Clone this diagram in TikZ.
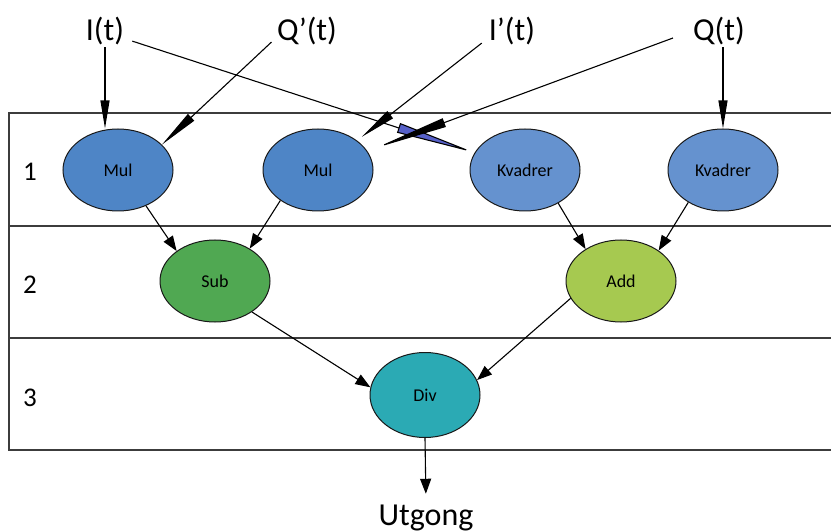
\documentclass[tikz,border=0pt]{standalone}
\usepackage{fontspec}
\setmainfont{Carlito}
\usetikzlibrary{arrows.meta,shapes.geometric}

\definecolor{mulblue}{RGB}{78,133,198}
\definecolor{kvblue}{RGB}{101,146,207}
\definecolor{subgreen}{RGB}{80,168,82}
\definecolor{addgreen}{RGB}{166,201,80}
\definecolor{divteal}{RGB}{43,170,180}
\definecolor{wedgeblue}{RGB}{86,96,200}
\definecolor{framegray}{RGB}{60,60,60}

\tikzset{
  frame/.style={draw=framegray, line width=1.3pt},
  opnode/.style={ellipse, draw=black!90, line width=1pt,
    minimum width=110pt, minimum height=82pt, inner sep=0pt,
    font=\fontsize{18}{20}\selectfont},
  sig/.style={font=\fontsize{32}{36}\selectfont, inner sep=2pt},
  rowlbl/.style={font=\fontsize{27}{30}\selectfont, inner sep=0pt},
  flow/.style={draw, line width=1.1pt, -{Triangle[length=15pt,width=11pt]}},
  feed/.style={draw, line width=1.1pt, -{Triangle[length=#1,width=9pt]}},
  bluefeed/.style={draw, line width=1.1pt,
    -{Triangle[length=#1,width=10pt,fill=wedgeblue]}},
}

\begin{document}
\begin{tikzpicture}[x=1pt,y=-1pt]
\useasboundingbox (0,0) rectangle (831,532);

% stage frame
\draw[frame] (831,113) -- (9,113) -- (9,450) -- (831,450);
\draw[frame] (9,226) -- (831,226);
\draw[frame] (9,338) -- (831,338);

% stage numbers
\node[rowlbl] (r1) at (30,172) {1};
\node[rowlbl] (r2) at (30,285) {2};
\node[rowlbl] (r3) at (30,398) {3};

% operations
\node[opnode, fill=mulblue] (mulA) at (118,170) {Mul};
\node[opnode, fill=mulblue] (mulB) at (318,170) {Mul};
\node[opnode, fill=kvblue] (kvA) at (525,170) {Kvadrer};
\node[opnode, fill=kvblue] (kvB) at (723,170) {Kvadrer};
\node[opnode, fill=subgreen] (sub) at (215,281) {Sub};
\node[opnode, fill=addgreen] (add) at (621,281) {Add};
\node[opnode, fill=divteal, minimum height=85pt] (div) at (425,395) {Div};

% input signals and output
\node[sig] (It) at (105,31) {I(t)};
\node[sig] (Qd) at (307,31) {Q’(t)};
\node[sig] (Id) at (512,31) {I’(t)};
\node[sig] (Qt) at (719,31) {Q(t)};
\node[sig] (out) at (426,518) {Utgong};

% inputs into stage 1
\draw[feed=28pt] (It.south) -- (It.south |- mulA.north);
\draw[feed=40pt] ([xshift=-3.5pt,yshift=5pt]Qd.south west) -- (mulA.30);
\draw[bluefeed=80pt] ([xshift=6pt,yshift=6pt]It.south east) -- (kvA.161);
\draw[feed=36pt, shorten >=6pt] ([xshift=-5pt,yshift=4pt]Id.south west) -- (mulB.37);
\draw[feed=73pt, shorten >=9pt] ([xshift=-18pt,yshift=-7pt]Qt.west) -- (mulB.21);
\draw[feed=28pt] ([xshift=4pt]Qt.south) -- (kvB.north);

% stage 1 to stage 2
\draw[flow] (mulA.-52) -- (sub.142);
\draw[flow] (mulB.219) -- (sub.43);
\draw[flow] (kvA.-45) -- (add.138);
\draw[flow] (kvB.223) -- (add.39);

% stage 2 to stage 3
\draw[flow] (sub.-40) -- (div.172);
\draw[flow] (add.199) -- (div.16);

% result
\draw[flow, shorten >=9pt] (div.south) -- (out.north);
\end{tikzpicture}
\end{document}
